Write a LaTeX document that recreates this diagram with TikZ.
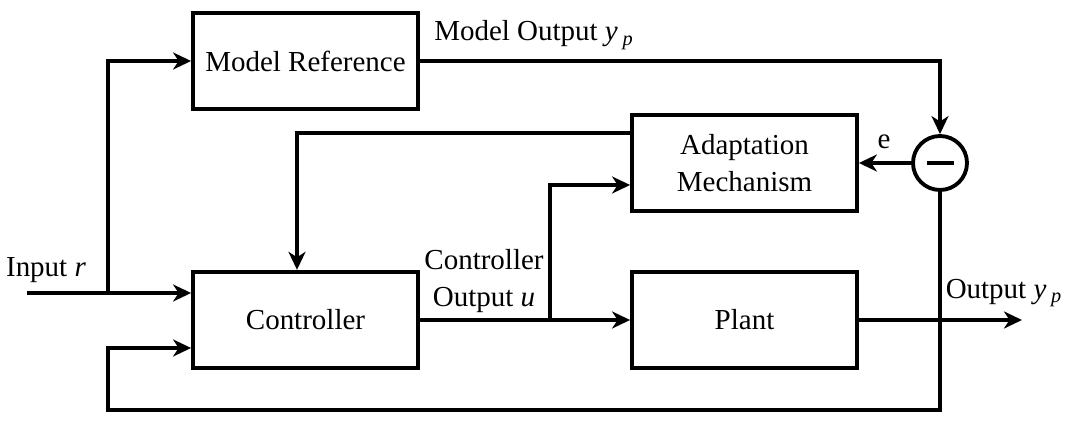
\documentclass[tikz,border=0pt]{standalone}
\usepackage{fontspec}
\setmainfont{Liberation Serif}
\usetikzlibrary{arrows.meta}
\begin{document}
\begin{tikzpicture}[x=0.02cm,y=-0.02cm, line width=2.2pt,
  box/.style={draw, minimum width=4.5cm, minimum height=1.93cm, inner sep=0pt, font=\fontsize{16.5}{21}\selectfont, align=center},
  arr/.style={-{Stealth[length=0.36cm,width=0.34cm,inset=0.11cm]}},
  lbl/.style={font=\fontsize{16.5}{21}\selectfont, inner sep=0pt, align=center}]
\useasboundingbox (0,0) rectangle (1069,425);
\node[box] (mr) at (305.5,61) {Model Reference};
\node[box] (am) at (744.5,163) {Adaptation\\Mechanism};
\node[box] (ctrl) at (305.5,320) {Controller};
\node[box] (pl) at (744.5,320) {Plant};
\node[draw, circle, minimum size=1.08cm, inner sep=0pt] (sum) at (940,163) {};
\draw ([xshift=-0.27cm]sum.center) -- ([xshift=0.27cm]sum.center);

\coordinate (a1) at (631,133);
\coordinate (j1) at (550,320);
\coordinate (in) at (27,293);
\coordinate (j2) at (108,293);
\coordinate (fb1) at (940,410);
\coordinate (fb2) at (108,410);
\coordinate (out) at (1022,320);

\draw[arr] (mr.east) -| (sum.north);
\draw[arr] (sum.west) -- (am.east);
\draw[arr] (a1) -| ([xshift=-0.17cm]ctrl.north);
\draw[arr] (ctrl.east) -- (pl.west);
\draw[arr] (j1) |- ([yshift=-0.44cm]am.west);
\draw[arr] (in) -- ([yshift=0.54cm]ctrl.west);
\draw[arr] (j2) |- (mr.west);
\draw[arr] (sum.south) -- (fb1) -- (fb2) |- ([yshift=-0.56cm]ctrl.west);
\draw[arr] (pl.east) -- (out);

\node[lbl] (le) at (884,142) {e};
\node[lbl] (lmo) at (534,35) {Model Output \textit{y}\,\textsubscript{\textit{p}}};
\node[lbl] (lco) at (484,281) {Controller\\Output \textit{u}};
\node[lbl] (lin) at (46,270) {Input \textit{r}};
\node[lbl] (lout) at (1004,293) {Output \textit{y}\,\textsubscript{\textit{p}}};
\end{tikzpicture}
\end{document}
